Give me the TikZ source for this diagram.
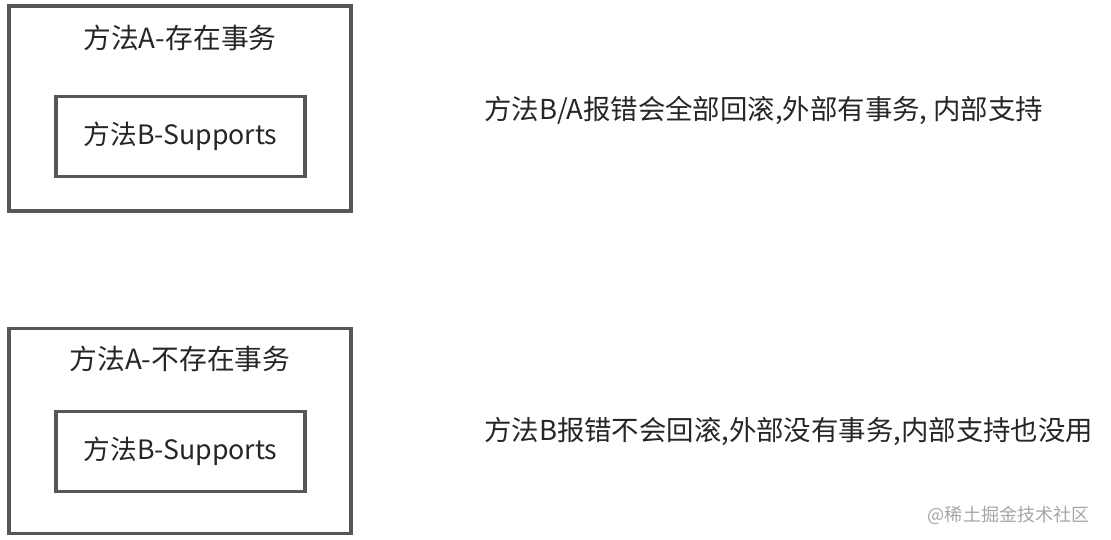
\documentclass[tikz,border=0pt]{standalone}
\usepackage{fontspec}
\setmainfont{Noto Sans CJK SC}
\usepackage{tikz}
\usetikzlibrary{positioning}

\begin{document}
\begin{tikzpicture}[
    outerbox/.style={draw=black!66, line width=2.2pt, minimum width=6.84cm, minimum height=4.1cm},
    innerbox/.style={draw=black!66, line width=2.2pt, minimum width=4.98cm, minimum height=1.6cm, font=\fontsize{15.2}{18}\selectfont, text=black!85},
    title/.style={font=\fontsize{15.8}{19}\selectfont, text=black!85},
    note/.style={anchor=west, font=\fontsize{15.6}{19}\selectfont, text=black!85},
    watermark/.style={anchor=east, font=\fontsize{10.3}{12}\selectfont, text=black!35}]
    \useasboundingbox (0,0) rectangle (22.22,-10.8);
    % Case 1: outer method has a transaction
    \node[outerbox] (outerA) at (3.6,-2.17) {};
    \node[title] (titleA) at (3.6,-0.76) {方法A-存在事务};
    \node[innerbox] (innerA) at (3.61,-2.73) {方法B-Supports};
    \node[note] (noteA) at (9.56,-2.2) {方法B/A报错会全部回滚,外部有事务, 内部支持};
    % Case 2: outer method has no transaction
    \node[outerbox] (outerB) at (3.6,-8.62) {};
    \node[title] (titleB) at (3.6,-7.18) {方法A-不存在事务};
    \node[innerbox] (innerB) at (3.61,-9.03) {方法B-Supports};
    \node[note] (noteB) at (9.56,-8.64) {方法B报错不会回滚,外部没有事务,内部支持也没用};
    % Watermark
    \node[watermark] (wm) at (21.92,-10.3) {@稀土掘金技术社区};
\end{tikzpicture}
\end{document}
